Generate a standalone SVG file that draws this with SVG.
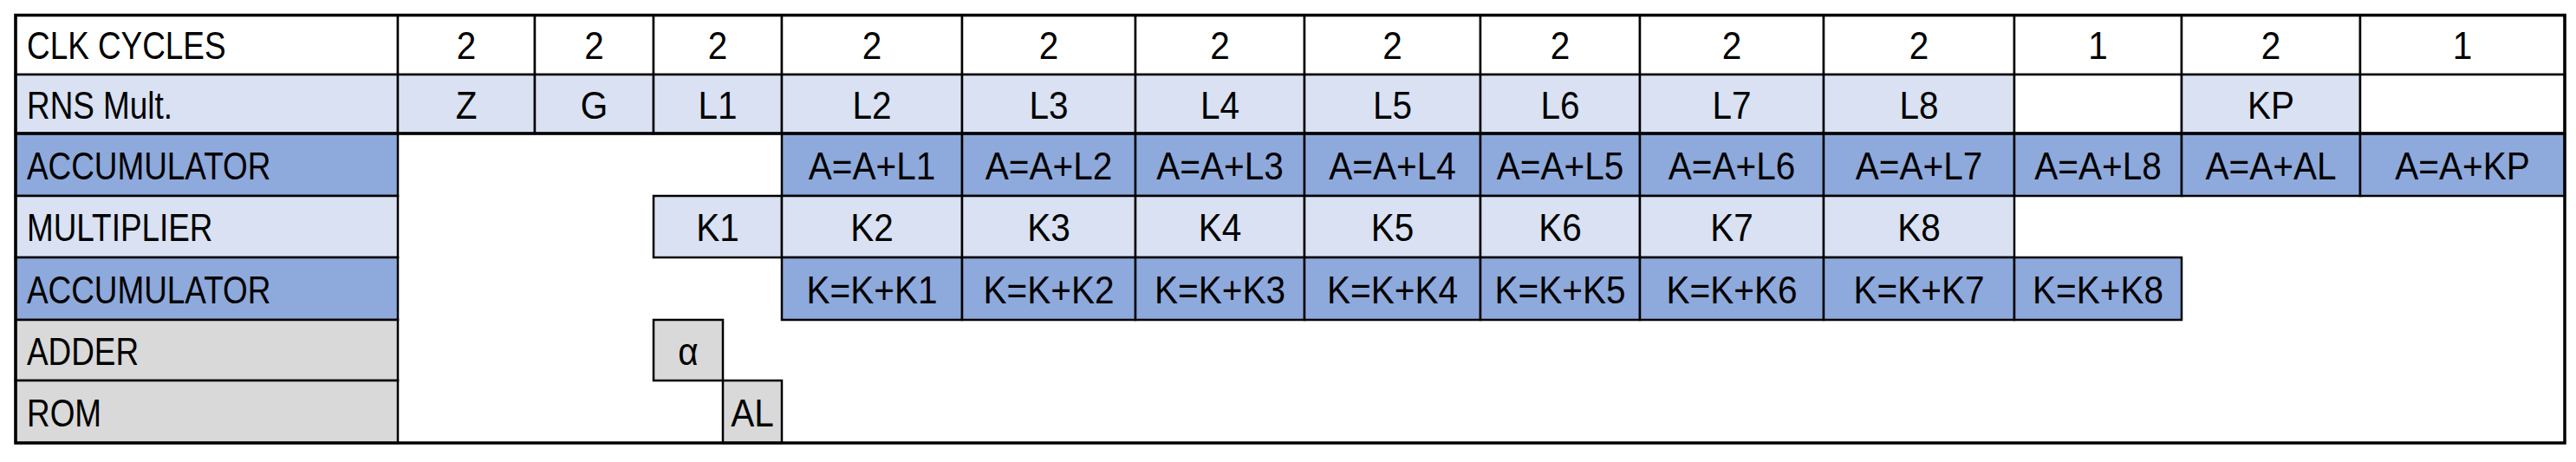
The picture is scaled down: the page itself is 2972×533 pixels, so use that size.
<svg xmlns="http://www.w3.org/2000/svg" width="2972" height="533" viewBox="0 0 2972 533">
<style>
.c{stroke:#000;stroke-width:2.5}
.w{fill:#FFFFFF}
.lb{fill:#D9E1F2}
.mb{fill:#8EA9DB}
.g{fill:#D9D9D9}
text{font-family:"Liberation Sans",Arial,sans-serif;font-size:45px;fill:#000}
.m{text-anchor:middle}
.s{text-anchor:start}
</style>
<rect width="2972" height="533" fill="#FFFFFF"/>
<g id="row-clk">
<rect class="c w" x="18" y="17.5" width="441" height="68.5"/>
<rect class="c w" x="459" y="17.5" width="158" height="68.5"/>
<rect class="c w" x="617" y="17.5" width="137" height="68.5"/>
<rect class="c w" x="754" y="17.5" width="148" height="68.5"/>
<rect class="c w" x="902" y="17.5" width="208" height="68.5"/>
<rect class="c w" x="1110" y="17.5" width="200" height="68.5"/>
<rect class="c w" x="1310" y="17.5" width="195" height="68.5"/>
<rect class="c w" x="1505" y="17.5" width="203" height="68.5"/>
<rect class="c w" x="1708" y="17.5" width="184" height="68.5"/>
<rect class="c w" x="1892" y="17.5" width="212" height="68.5"/>
<rect class="c w" x="2104" y="17.5" width="220" height="68.5"/>
<rect class="c w" x="2324" y="17.5" width="193" height="68.5"/>
<rect class="c w" x="2517" y="17.5" width="206" height="68.5"/>
<rect class="c w" x="2723" y="17.5" width="236" height="68.5"/>
<text class="s" transform="translate(31,68) scale(0.82,1)">CLK CYCLES</text>
<text class="m" transform="translate(538,68) scale(0.9,1)">2</text>
<text class="m" transform="translate(685.5,68) scale(0.9,1)">2</text>
<text class="m" transform="translate(828,68) scale(0.9,1)">2</text>
<text class="m" transform="translate(1006,68) scale(0.9,1)">2</text>
<text class="m" transform="translate(1210,68) scale(0.9,1)">2</text>
<text class="m" transform="translate(1407.5,68) scale(0.9,1)">2</text>
<text class="m" transform="translate(1606.5,68) scale(0.9,1)">2</text>
<text class="m" transform="translate(1800,68) scale(0.9,1)">2</text>
<text class="m" transform="translate(1998,68) scale(0.9,1)">2</text>
<text class="m" transform="translate(2214,68) scale(0.9,1)">2</text>
<text class="m" transform="translate(2420.5,68) scale(0.9,1)">1</text>
<text class="m" transform="translate(2620,68) scale(0.9,1)">2</text>
<text class="m" transform="translate(2841,68) scale(0.9,1)">1</text>
</g>
<g id="row-rns">
<rect class="c lb" x="18" y="86" width="441" height="68"/>
<rect class="c lb" x="459" y="86" width="158" height="68"/>
<rect class="c lb" x="617" y="86" width="137" height="68"/>
<rect class="c lb" x="754" y="86" width="148" height="68"/>
<rect class="c lb" x="902" y="86" width="208" height="68"/>
<rect class="c lb" x="1110" y="86" width="200" height="68"/>
<rect class="c lb" x="1310" y="86" width="195" height="68"/>
<rect class="c lb" x="1505" y="86" width="203" height="68"/>
<rect class="c lb" x="1708" y="86" width="184" height="68"/>
<rect class="c lb" x="1892" y="86" width="212" height="68"/>
<rect class="c lb" x="2104" y="86" width="220" height="68"/>
<rect class="c w" x="2324" y="86" width="193" height="68"/>
<rect class="c lb" x="2517" y="86" width="206" height="68"/>
<rect class="c w" x="2723" y="86" width="236" height="68"/>
<text class="s" transform="translate(31,136.5) scale(0.82,1)">RNS Mult.</text>
<text class="m" transform="translate(538,136.5) scale(0.9,1)">Z</text>
<text class="m" transform="translate(685.5,136.5) scale(0.9,1)">G</text>
<text class="m" transform="translate(828,136.5) scale(0.9,1)">L1</text>
<text class="m" transform="translate(1006,136.5) scale(0.9,1)">L2</text>
<text class="m" transform="translate(1210,136.5) scale(0.9,1)">L3</text>
<text class="m" transform="translate(1407.5,136.5) scale(0.9,1)">L4</text>
<text class="m" transform="translate(1606.5,136.5) scale(0.9,1)">L5</text>
<text class="m" transform="translate(1800,136.5) scale(0.9,1)">L6</text>
<text class="m" transform="translate(1998,136.5) scale(0.9,1)">L7</text>
<text class="m" transform="translate(2214,136.5) scale(0.9,1)">L8</text>
<text class="m" transform="translate(2620,136.5) scale(0.9,1)">KP</text>
</g>
<g id="row-acc-a">
<rect class="c mb" x="18" y="154" width="441" height="72"/>
<rect class="c mb" x="902" y="154" width="208" height="72"/>
<rect class="c mb" x="1110" y="154" width="200" height="72"/>
<rect class="c mb" x="1310" y="154" width="195" height="72"/>
<rect class="c mb" x="1505" y="154" width="203" height="72"/>
<rect class="c mb" x="1708" y="154" width="184" height="72"/>
<rect class="c mb" x="1892" y="154" width="212" height="72"/>
<rect class="c mb" x="2104" y="154" width="220" height="72"/>
<rect class="c mb" x="2324" y="154" width="193" height="72"/>
<rect class="c mb" x="2517" y="154" width="206" height="72"/>
<rect class="c mb" x="2723" y="154" width="236" height="72"/>
<text class="s" transform="translate(31,206.5) scale(0.82,1)">ACCUMULATOR</text>
<text class="m" transform="translate(1006,206.5) scale(0.9,1)">A=A+L1</text>
<text class="m" transform="translate(1210,206.5) scale(0.9,1)">A=A+L2</text>
<text class="m" transform="translate(1407.5,206.5) scale(0.9,1)">A=A+L3</text>
<text class="m" transform="translate(1606.5,206.5) scale(0.9,1)">A=A+L4</text>
<text class="m" transform="translate(1800,206.5) scale(0.9,1)">A=A+L5</text>
<text class="m" transform="translate(1998,206.5) scale(0.9,1)">A=A+L6</text>
<text class="m" transform="translate(2214,206.5) scale(0.9,1)">A=A+L7</text>
<text class="m" transform="translate(2420.5,206.5) scale(0.9,1)">A=A+L8</text>
<text class="m" transform="translate(2620,206.5) scale(0.9,1)">A=A+AL</text>
<text class="m" transform="translate(2841,206.5) scale(0.9,1)">A=A+KP</text>
</g>
<g id="row-mult">
<rect class="c lb" x="18" y="226" width="441" height="71"/>
<rect class="c lb" x="754" y="226" width="148" height="71"/>
<rect class="c lb" x="902" y="226" width="208" height="71"/>
<rect class="c lb" x="1110" y="226" width="200" height="71"/>
<rect class="c lb" x="1310" y="226" width="195" height="71"/>
<rect class="c lb" x="1505" y="226" width="203" height="71"/>
<rect class="c lb" x="1708" y="226" width="184" height="71"/>
<rect class="c lb" x="1892" y="226" width="212" height="71"/>
<rect class="c lb" x="2104" y="226" width="220" height="71"/>
<text class="s" transform="translate(31,278) scale(0.82,1)">MULTIPLIER</text>
<text class="m" transform="translate(828,278) scale(0.9,1)">K1</text>
<text class="m" transform="translate(1006,278) scale(0.9,1)">K2</text>
<text class="m" transform="translate(1210,278) scale(0.9,1)">K3</text>
<text class="m" transform="translate(1407.5,278) scale(0.9,1)">K4</text>
<text class="m" transform="translate(1606.5,278) scale(0.9,1)">K5</text>
<text class="m" transform="translate(1800,278) scale(0.9,1)">K6</text>
<text class="m" transform="translate(1998,278) scale(0.9,1)">K7</text>
<text class="m" transform="translate(2214,278) scale(0.9,1)">K8</text>
</g>
<g id="row-acc-k">
<rect class="c mb" x="18" y="297" width="441" height="72"/>
<rect class="c mb" x="902" y="297" width="208" height="72"/>
<rect class="c mb" x="1110" y="297" width="200" height="72"/>
<rect class="c mb" x="1310" y="297" width="195" height="72"/>
<rect class="c mb" x="1505" y="297" width="203" height="72"/>
<rect class="c mb" x="1708" y="297" width="184" height="72"/>
<rect class="c mb" x="1892" y="297" width="212" height="72"/>
<rect class="c mb" x="2104" y="297" width="220" height="72"/>
<rect class="c mb" x="2324" y="297" width="193" height="72"/>
<text class="s" transform="translate(31,349.5) scale(0.82,1)">ACCUMULATOR</text>
<text class="m" transform="translate(1006,349.5) scale(0.9,1)">K=K+K1</text>
<text class="m" transform="translate(1210,349.5) scale(0.9,1)">K=K+K2</text>
<text class="m" transform="translate(1407.5,349.5) scale(0.9,1)">K=K+K3</text>
<text class="m" transform="translate(1606.5,349.5) scale(0.9,1)">K=K+K4</text>
<text class="m" transform="translate(1800,349.5) scale(0.9,1)">K=K+K5</text>
<text class="m" transform="translate(1998,349.5) scale(0.9,1)">K=K+K6</text>
<text class="m" transform="translate(2214,349.5) scale(0.9,1)">K=K+K7</text>
<text class="m" transform="translate(2420.5,349.5) scale(0.9,1)">K=K+K8</text>
</g>
<g id="row-adder">
<rect class="c g" x="18" y="369" width="441" height="70"/>
<rect class="c g" x="754" y="369" width="80" height="70"/>
<text class="s" transform="translate(31,420.5) scale(0.82,1)">ADDER</text>
<text class="m" transform="translate(794,420.5) scale(0.9,1)">α</text>
</g>
<g id="row-rom">
<rect class="c g" x="18" y="439" width="441" height="72"/>
<rect class="c g" x="834" y="439" width="68" height="72"/>
<text class="s" transform="translate(31,491.5) scale(0.82,1)">ROM</text>
<text class="m" transform="translate(868,491.5) scale(0.9,1)">AL</text>
</g>
<g id="frame">
<rect x="18" y="17.5" width="2941" height="493.5" fill="none" stroke="#000" stroke-width="3.5"/>
<line x1="18" y1="154" x2="2959" y2="154" stroke="#000" stroke-width="3.5"/>
</g>
</svg>
